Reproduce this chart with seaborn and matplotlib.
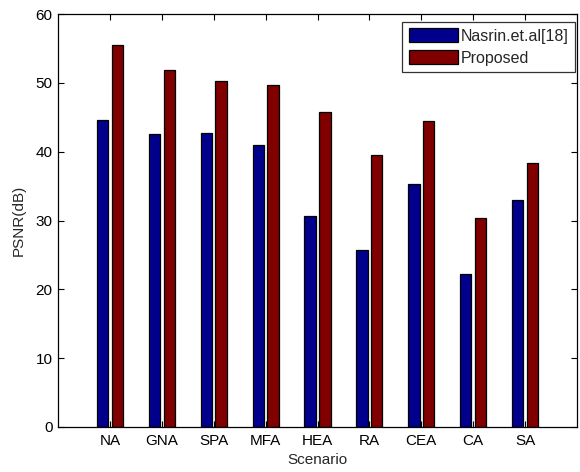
import matplotlib
matplotlib.use("Agg")
import matplotlib.pyplot as plt
import seaborn as sns
import pandas as pd

scenarios = ["NA", "GNA", "SPA", "MFA", "HEA", "RA", "CEA", "CA", "SA"]
nasrin = [44.6, 42.5, 42.7, 41.0, 30.7, 25.7, 35.3, 22.3, 33.0]
proposed = [55.5, 51.8, 50.2, 49.7, 45.8, 39.5, 44.5, 30.4, 38.4]
series_names = ["Nasrin.et.al[18]", "Proposed"]
yticks = [0, 10, 20, 30, 40, 50, 60]

df = pd.DataFrame({
    "Scenario": scenarios * 2,
    "PSNR": nasrin + proposed,
    "Method": [series_names[0]] * len(scenarios) + [series_names[1]] * len(scenarios),
})

sns.set_style("white")
plt.rcParams["font.family"] = ["Liberation Sans", "DejaVu Sans"]

fig = plt.figure(figsize=(5.8, 4.72), dpi=100)
ax = fig.add_axes([58 / 580, 1 - 427 / 472, (577 - 58) / 580, (427 - 14) / 472])

sns.barplot(data=df, x="Scenario", y="PSNR", hue="Method", order=scenarios,
            hue_order=series_names, palette=["#00008C", "#800000"],
            width=0.57, gap=0.23, edgecolor="black", linewidth=0.9,
            saturation=1, ax=ax, legend=True)

ax.set_xlim(-1, 9)
ax.set_ylim(0, 60)
ax.set_yticks(yticks)
ax.set_xlabel("Scenario", fontsize=11, labelpad=4)
ax.set_ylabel("PSNR(dB)", fontsize=11, labelpad=7)
for s in ax.spines.values():
    s.set_color("black")
    s.set_linewidth(0.9)
ax.tick_params(axis="both", direction="in", length=4, width=0.8, colors="black",
               labelsize=11, top=True, right=True, bottom=True, left=True, pad=4)
ax.tick_params(axis="x", pad=5)

leg = ax.legend(loc="upper right", bbox_to_anchor=((575 - 58) / 519, 1 - (22 - 14) / 413),
                borderaxespad=0, fontsize=11.5, frameon=True, fancybox=False,
                handlelength=3.1, handleheight=0.95, handletextpad=0.15,
                labelspacing=0.4, borderpad=0.4)
leg.get_frame().set_edgecolor("black")
leg.get_frame().set_linewidth(0.9)

fig.savefig("out.png", dpi=100)
